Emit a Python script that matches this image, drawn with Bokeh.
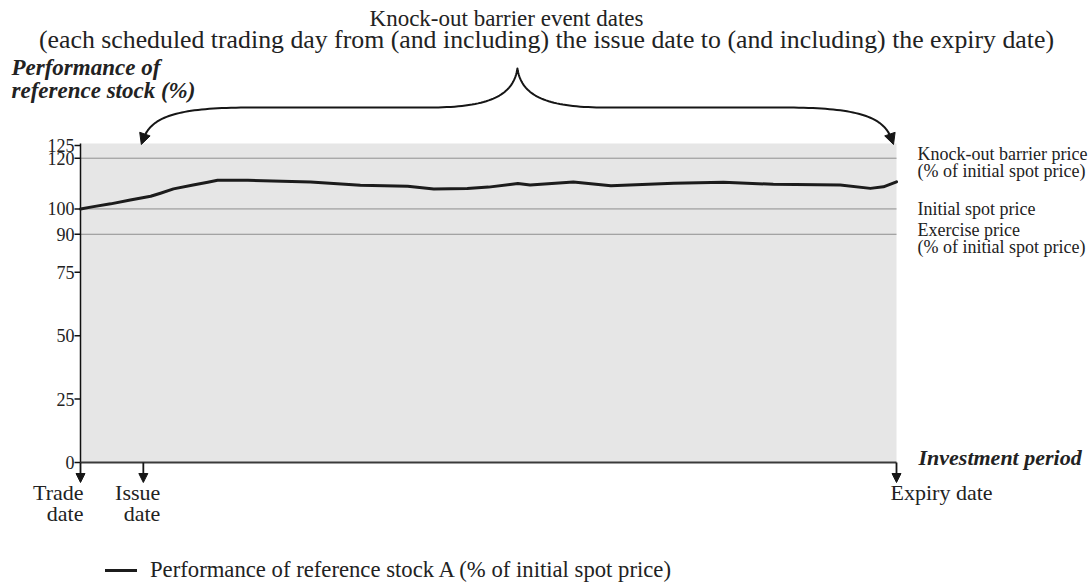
import numpy as np
from bokeh.plotting import figure
from bokeh.models import Range1d, Label, Arrow, NormalHead, Legend, LegendItem
from bokeh.core.properties import value
from bokeh.embed import file_html
from bokeh.resources import INLINE

# ---------------- data ----------------
period_pct = [0, 1.6, 3.7, 6.1, 8.6, 9.8, 11.4, 13.8, 15.6, 16.8, 20.5, 28.2,
              34.3, 40.1, 43.3, 47.4, 50.0, 53.6, 55.1, 60.4, 65.0, 72.7,
              78.8, 84.9, 93.1, 96.8, 98.4, 100]
stock_perf = [100.0, 100.9, 102.0, 103.5, 105.0, 106.2, 107.9, 109.4, 110.5,
              111.3, 111.3, 110.6, 109.3, 108.9, 107.9, 108.1, 108.6, 110.0,
              109.4, 110.6, 109.1, 110.1, 110.5, 109.7, 109.4, 108.1, 108.7,
              110.7]
level_ticks = [0, 25, 50, 75, 90, 100, 120, 125]
ref_levels = [90, 100, 120]
TRADE_X, ISSUE_X, EXPIRY_X = 0.0, 7.7, 100.0
legend_label = "Performance of reference stock A (% of initial spot price)"

# ---------------- geometry (image px) ----------------
W, H = 1090, 583
FL, FR, FT, FB = 80, 896, 143, 462      # plotting area on the image
X0, X1, Y0, Y1 = 0.0, 100.0, 0.0, 125.8  # data values at those edges


def dx(px):
    return X0 + (px - FL) / (FR - FL) * (X1 - X0)


def dy(py):
    return Y0 + (FB - py) / (FB - FT) * (Y1 - Y0)


def px_of(x):
    return FL + (x - X0) / (X1 - X0) * (FR - FL)


FONT = "Liberation Serif"
TXT = "#222222"
INK = "#161616"

p = figure(width=W, height=H, x_range=Range1d(dx(0), dx(W)), y_range=Range1d(dy(H), dy(0)),
           output_backend="svg", toolbar_location=None,
           x_axis_location=None, y_axis_location=None, min_border=0)
p.min_border_left = p.min_border_right = p.min_border_top = p.min_border_bottom = 0
p.grid.visible = False
p.outline_line_color = None
p.background_fill_color = "white"
p.border_fill_color = "white"

# plotting area background and reference levels
p.quad(left=[TRADE_X], right=[EXPIRY_X], bottom=[Y0], top=[Y1],
       fill_color="#e6e6e6", line_color=None)
p.segment(x0=[TRADE_X] * len(ref_levels), x1=[EXPIRY_X] * len(ref_levels),
          y0=ref_levels, y1=ref_levels, line_color="#8f8f8f", line_width=1)

# y axis: line, ticks, labels
p.segment(x0=[TRADE_X], x1=[TRADE_X], y0=[Y0], y1=[Y1], line_color="#111111", line_width=1.5)
tick_x0 = dx(FL - 6)
p.segment(x0=[tick_x0] * len(level_ticks), x1=[TRADE_X] * len(level_ticks),
          y0=level_ticks, y1=level_ticks, line_color="#111111", line_width=1.5)
p.text(x=[dx(FL - 6)] * len(level_ticks), y=level_ticks, text=[str(t) for t in level_ticks],
       text_align="right", text_baseline="middle", text_font=value(FONT),
       text_font_size="18px", text_color=TXT)

# x axis line
p.segment(x0=[TRADE_X], x1=[EXPIRY_X], y0=[Y0], y1=[Y0], line_color="#3a3a3a", line_width=2)

r = p.line(period_pct, stock_perf, line_width=3, color="#1c1c1c",
           line_join="round", line_cap="round")

# down arrows at trade / issue / expiry dates
for xv in [TRADE_X, ISSUE_X, EXPIRY_X]:
    p.add_layout(Arrow(x_start=xv, y_start=Y0, x_end=xv, y_end=dy(FB + 20),
                       end=NormalHead(size=9, fill_color=INK, line_color=INK, line_width=1),
                       line_width=1.8, line_color=INK))


# ---------------- brace ----------------
def bez(p0, p1, p2, p3, n=40):
    t = np.linspace(0, 1, n)[:, None]
    P = [np.array(q, dtype=float) for q in (p0, p1, p2, p3)]
    return ((1 - t) ** 3) * P[0] + 3 * ((1 - t) ** 2) * t * P[1] + 3 * (1 - t) * t ** 2 * P[2] + t ** 3 * P[3]


tipL = px_of(ISSUE_X) - 2
tipR = px_of(EXPIRY_X) - 3
cx = (tipL + tipR) / 2
tip_y, flat_y, cusp_y = 144, 107, 68
left_outer = bez((tipL + 3, tip_y - 8), (tipL + 12, 115), (tipL + 40, flat_y), (tipL + 110, flat_y))
left_inner = bez((cx - 88, flat_y), (cx - 28, flat_y), (cx - 4, 95), (cx, cusp_y))
half = np.vstack([left_outer, left_inner])
right = half[::-1].copy()
right[:, 0] = 2 * cx - right[:, 0]
path = np.vstack([half, right])
p.line([dx(v) for v in path[:, 0]], [dy(v) for v in path[:, 1]],
       line_color=INK, line_width=2, line_join="round")
for sgn, tip in [(1, tipL), (-1, tipR)]:
    d = np.array([10.0 * sgn, -29.0])
    d = d / np.linalg.norm(d)
    sx0, sy0 = tip + d[0] * 10, tip_y + d[1] * 10
    p.add_layout(Arrow(x_start=dx(sx0), y_start=dy(sy0), x_end=dx(tip), y_end=dy(tip_y),
                       end=NormalHead(size=11, fill_color=INK, line_color=INK, line_width=1),
                       line_width=2, line_color=INK))


# ---------------- texts ----------------
def lab(text, x, y, align="left", size="18px", style="normal", x_offset=0, y_offset=0):
    p.add_layout(Label(x=x, y=y, text=text, text_align=align, text_baseline="alphabetic",
                       text_font=FONT, text_font_size=size, text_font_style=style,
                       text_color=TXT, x_offset=x_offset, y_offset=y_offset))


lab("Knock-out barrier event dates", dx(506), dy(18), align="center", size="23px")
lab("(each scheduled trading day from (and including) the issue date to (and including) the expiry date)",
    dx(546), dy(39), align="center", size="25.8px")
lab("Performance of", dx(11), dy(67), size="23px", style="bold italic")
lab("reference stock (%)", dx(11), dy(90), size="23px", style="bold italic")

lab("Knock-out barrier price", EXPIRY_X, 120, x_offset=21, y_offset=4)
lab("(% of initial spot price)", EXPIRY_X, 120, x_offset=21, y_offset=-13)
lab("Initial spot price", EXPIRY_X, 100, x_offset=21, y_offset=0)
lab("Exercise price", EXPIRY_X, 90, x_offset=21, y_offset=4)
lab("(% of initial spot price)", EXPIRY_X, 90, x_offset=21, y_offset=-13)

lab("Investment period", EXPIRY_X, Y0, x_offset=22, y_offset=5, size="22px", style="bold italic")
lab("Expiry date", EXPIRY_X, Y0, x_offset=-6, y_offset=-30, size="22px")
lab("Trade", TRADE_X, Y0, align="right", x_offset=3, y_offset=-30, size="22px")
lab("date", TRADE_X, Y0, align="right", x_offset=3, y_offset=-51, size="22px")
lab("Issue", ISSUE_X, Y0, align="right", x_offset=17, y_offset=-30, size="22px")
lab("date", ISSUE_X, Y0, align="right", x_offset=17, y_offset=-51, size="22px")

# ---------------- legend ----------------
legend = Legend(items=[LegendItem(label=legend_label, renderers=[r])],
                location=(105, 0), padding=0, margin=0, border_line_color=None,
                background_fill_alpha=0, glyph_width=32, glyph_height=20, label_standoff=13,
                label_text_font=FONT, label_text_font_size="22.7px", label_text_color=TXT)
p.add_layout(legend)

open("out.html", "w").write(file_html(p, INLINE))
